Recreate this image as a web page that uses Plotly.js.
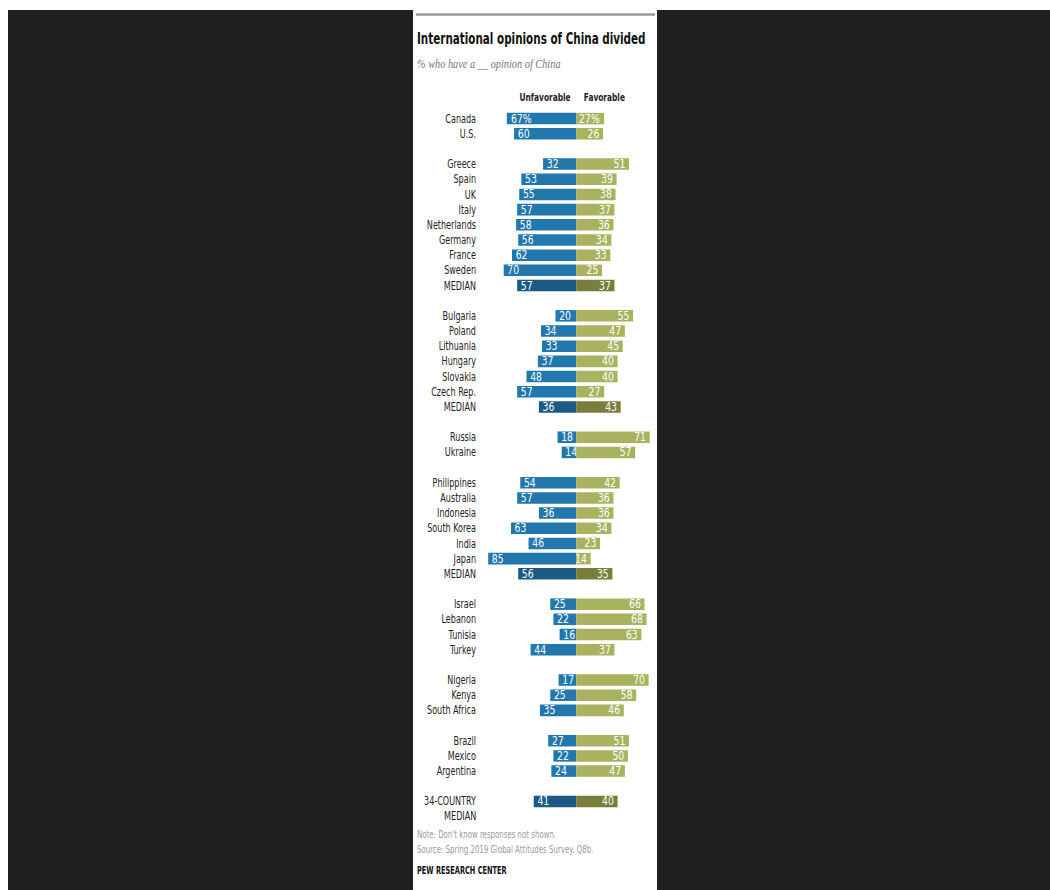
<!DOCTYPE html>
<html>
<head>
<meta charset="utf-8">
<script src="https://cdn.plot.ly/plotly-3.0.1.min.js"></script>
<style>
  html, body { margin: 0; padding: 0; background: #ffffff; width: 1050px; height: 890px; overflow: hidden; }
  #dark { position: absolute; left: 8px; top: 10px; width: 1042px; height: 880px; background: #1f1f1f; }
  #panel { position: absolute; left: 413px; top: 10px; width: 244px; height: 880px; background: #ffffff; }
  #chart { position: absolute; left: 0; top: 0; width: 1050px; height: 890px; }
</style>
</head>
<body>
<div id="dark"></div>
<div id="panel"></div>
<div id="chart"></div>
<script>
// ---- data ----
const rowLabels = ["Canada","U.S.","","Greece","Spain","UK","Italy","Netherlands","Germany","France","Sweden","MEDIAN","",
  "Bulgaria","Poland","Lithuania","Hungary","Slovakia","Czech Rep.","MEDIAN","",
  "Russia","Ukraine","",
  "Philippines","Australia","Indonesia","South Korea","India","Japan","MEDIAN","",
  "Israel","Lebanon","Tunisia","Turkey","",
  "Nigeria","Kenya","South Africa","",
  "Brazil","Mexico","Argentina","",
  "34-COUNTRY"];
const unfavorable = [67,60,null,32,53,55,57,58,56,62,70,57,null,
  20,34,33,37,48,57,36,null,
  18,14,null,
  54,57,36,63,46,85,56,null,
  25,22,16,44,null,
  17,25,35,null,
  27,22,24,null,
  41];
const favorable = [27,26,null,51,39,38,37,36,34,33,25,37,null,
  55,47,45,40,40,27,43,null,
  71,57,null,
  42,36,36,34,23,14,35,null,
  66,68,63,37,null,
  70,58,46,null,
  51,50,47,null,
  40];
const isMedian = rowLabels.map(l => l === "MEDIAN" || l === "34-COUNTRY");
const headerLabels = ["Unfavorable", "Favorable"];

// ---- style ----
const BLUE = "#2277ad", BLUE_D = "#1b5a84", GREEN = "#a9b35f", GREEN_D = "#7a7e3b";
const NARROW = "DejaVu Sans Condensed, DejaVu Sans, sans-serif";
const W = 1050, H = 890, L = 483, R = 391, T = 111.4, B = 81.4;
const px = x => (x - L) / (W - L - R);
const py = y => 1 - (y - T) / (H - T - B);
// horizontal squeeze factors to imitate the condensed typeface
const SQ_TICK = 0.78, SQ_BAR = 0.9;

const rows = rowLabels.map((_, i) => i);
const fmt = (v, i) => v == null ? "" : (i === 0 ? v + "%" : String(v));

const traces = [
  {
    type: "bar", orientation: "h", y: rows,
    x: unfavorable, base: unfavorable.map(v => v == null ? null : -v),
    width: 0.76,
    marker: { color: isMedian.map(m => m ? BLUE_D : BLUE), line: { width: 0 } },
    text: unfavorable.map(fmt), textposition: "inside", insidetextanchor: "start",
    textangle: 0, constraintext: "none", cliponaxis: false,
    textfont: { family: NARROW, size: 11.5, color: "#ffffff" },
    hoverinfo: "skip"
  },
  {
    type: "bar", orientation: "h", y: rows,
    x: favorable, base: favorable.map(v => v == null ? null : 0),
    width: 0.76,
    marker: { color: isMedian.map(m => m ? GREEN_D : GREEN), line: { width: 0 } },
    text: favorable.map(fmt), textposition: "inside", insidetextanchor: "end",
    textangle: 0, constraintext: "none", cliponaxis: false,
    textfont: { family: NARROW, size: 11.5, color: "#ffffff" },
    hoverinfo: "skip"
  }
];

const annSpecs = [
  [{ text: "<b>International opinions of China divided</b>", x: px(415), y: py(39), xanchor: "left", align: "left",
    font: { family: NARROW, size: 16.5, color: "#111111" } }, 0.70],
  [{ text: "<i>% who have a __ opinion of China</i>", x: px(415), y: py(64), xanchor: "left", align: "left",
    font: { family: "Liberation Serif, DejaVu Serif, serif", size: 12, color: "#777777" } }, 0.86],
  [{ text: "<b>" + headerLabels[0] + "</b>", x: px(545), y: py(98), xanchor: "center", align: "center",
    font: { family: NARROW, size: 11, color: "#222222" } }, 0.75],
  [{ text: "<b>" + headerLabels[1] + "</b>", x: px(604), y: py(98), xanchor: "center", align: "center",
    font: { family: NARROW, size: 11, color: "#222222" } }, 0.75],
  [{ text: "MEDIAN", xref: "paper", yref: "y", x: px(478), y: rows.length - 1, yshift: -15, xanchor: "right", align: "right",
    font: { family: NARROW, size: 11.5, color: "#222222" } }, SQ_TICK],
  [{ text: "Note: Don't know responses not shown.", x: px(415), y: py(834), xanchor: "left", align: "left",
    font: { family: NARROW, size: 10, color: "#9a9a9a" } }, 0.78],
  [{ text: "Source: Spring 2019 Global Attitudes Survey. Q8b.", x: px(415), y: py(849), xanchor: "left", align: "left",
    font: { family: NARROW, size: 10, color: "#9a9a9a" } }, 0.78],
  [{ text: "<b>PEW RESEARCH CENTER</b>", x: px(415), y: py(870), xanchor: "left", align: "left",
    font: { family: NARROW, size: 10.5, color: "#111111" } }, 0.70]
];
const annotations = annSpecs.map(([a]) => Object.assign({ xref: "paper", yref: "paper", showarrow: false, yanchor: "middle" }, a));
const annSqueeze = annSpecs.map(([, s]) => s);

const layout = {
  width: W, height: H,
  margin: { l: L, r: R, t: T, b: B, pad: 0 },
  paper_bgcolor: "rgba(0,0,0,0)", plot_bgcolor: "rgba(0,0,0,0)",
  barmode: "overlay", showlegend: false,
  xaxis: { range: [-90, 80], visible: false, fixedrange: true },
  yaxis: {
    range: [rows.length - 0.5, -0.5], tickmode: "array", tickvals: rows, ticktext: rowLabels,
    showgrid: false, zeroline: false, showline: false, ticks: "", ticklabelstandoff: 6,
    tickfont: { family: NARROW, size: 11.5, color: "#222222" }, fixedrange: true
  },
  shapes: [
    { type: "line", xref: "paper", yref: "paper", x0: px(416), x1: px(655), y0: py(15), y1: py(15),
      line: { color: "#9b9b9b", width: 2.5 } }
  ],
  annotations: annotations
};

function squeeze(el, s) {
  const x = parseFloat(el.getAttribute("x")) || 0;
  const y = parseFloat(el.getAttribute("y")) || 0;
  const t = el.getAttribute("transform") || "";
  el.setAttribute("transform", t + " translate(" + x + "," + y + ") scale(" + s + ",1) translate(" + (-x) + "," + (-y) + ")");
}

Plotly.newPlot("chart", traces, layout, { displayModeBar: false, staticPlot: true }).then(gd => {
  gd.querySelectorAll(".ytick text").forEach(el => squeeze(el, SQ_TICK));
  gd.querySelectorAll(".bartext").forEach(el => squeeze(el, SQ_BAR));
  gd.querySelectorAll(".annotation").forEach(g => {
    const i = parseInt(g.getAttribute("data-index"), 10);
    const el = g.querySelector("text");
    if (el && !isNaN(i)) squeeze(el, annSqueeze[i]);
  });
});
</script>
</body>
</html>
